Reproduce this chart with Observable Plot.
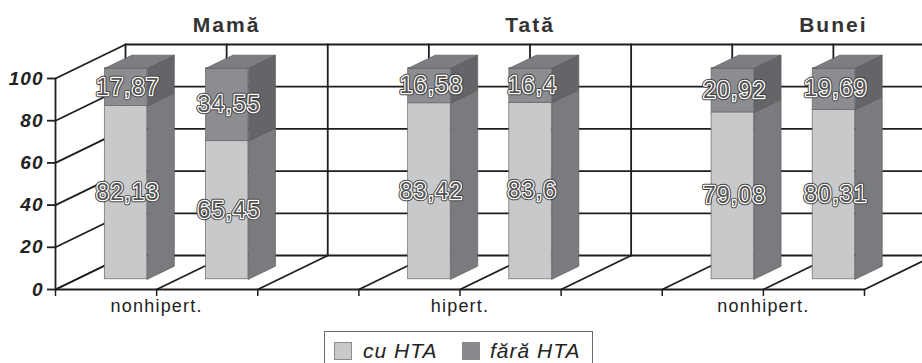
<!DOCTYPE html>
<html><head><meta charset="utf-8">
<script src="https://cdn.jsdelivr.net/npm/d3@7"></script>
<script src="https://cdn.jsdelivr.net/npm/@observablehq/plot@0.6"></script>
<style>
html,body{margin:0;padding:0;background:#fff;overflow:hidden;width:922px;height:363px;}
#chart{position:relative;width:922px;height:363px;overflow:hidden;}
#chart svg{overflow:hidden;}
.c [aria-label="y-axis tick label"] text{font-family:"Liberation Sans",Arial,sans-serif;font-size:19px;font-weight:bold;font-style:italic;letter-spacing:1px;fill:#222;}
.c [aria-label="x-axis tick label"] text{font-family:"Liberation Sans",Arial,sans-serif;font-size:18px;letter-spacing:1.2px;fill:#222;}
.lg{position:absolute;font-family:"Liberation Sans",Arial,sans-serif;}
.box{left:324px;top:331px;width:269px;height:50px;border:1.5px solid #6b6b6b;box-sizing:border-box;}
.sw{width:18px;height:18px;top:342px;border:1px solid #8c8c8c;box-sizing:border-box;}
.lt{top:340px;font-size:21px;line-height:21px;font-style:italic;letter-spacing:1px;color:#222;white-space:nowrap;}
</style></head><body><div id="chart"></div>
<script>
// ---- data ----
const groups = ["Mamă", "Tată", "Bunei"];
const categories = ["nonhipert.", "hipert.", "nonhipert."];
const series = ["cu HTA", "fără HTA"];
const cuHTA   = [82.13, 65.45, 83.42, 83.6, 79.08, 80.31];
const faraHTA = [17.87, 34.55, 16.58, 16.4, 20.92, 19.69];
const yTicks = [0, 20, 40, 60, 80, 100];
const colors = {front: ["#c8c9cb", "#8c8d90"], side: ["#7a7b7f", "#646568"], top: "#7d7e81", legend2: "#87888b"};

// ---- layout ----
const W = 922, H = 325, mL = 55, mR = 58, mT = 78, mB = 36;
const barsPerGroup = 2;
const nSlots = groups.length * (barsPerGroup + 1) - 1;
const slotPx = (W - mL - mR) / nSlots;
const unitPx = (H - mT - mB) / 100;
const DXS = 70 / slotPx;   // depth offset in x units
const DYV = 34 / unitPx;   // depth offset in y units
const A = 0.28, B = 0.70, D0 = 0.30, D1 = 0.686;
const P = (s, v, d) => ({x: s + d * DXS, y: v + d * DYV});
const poly = (id, pts) => [...pts, pts[0]].map(p => ({id, ...p}));
const fmt = v => String(v).replace(".", ",");

const bars = [];
groups.forEach((g, gi) => {
  for (let i = 0; i < barsPerGroup; i++) {
    const k = gi * barsPerGroup + i;
    bars.push({slot: gi * (barsPerGroup + 1) + i, vals: [cuHTA[k], faraHTA[k]]});
  }
});

const segs = [];
bars.forEach((b, bi) => {
  let v0 = 0;
  b.vals.forEach((v, si) => { segs.push({bi, si, s: b.slot, v0, v1: v0 + v, v}); v0 += v; });
});

const sidePolys = [[], []], frontRects = [[], []], topPolys = [];
segs.forEach((g, j) => {
  sidePolys[g.si].push(...poly("s" + j, [P(g.s + B, g.v0, D0), P(g.s + B, g.v0, D1), P(g.s + B, g.v1, D1), P(g.s + B, g.v1, D0)]));
  frontRects[g.si].push({x1: g.s + A + D0 * DXS, x2: g.s + B + D0 * DXS, y1: g.v0 + D0 * DYV, y2: g.v1 + D0 * DYV});
  if (g.si === 1) topPolys.push(...poly("t" + j, [P(g.s + A, g.v1, D0), P(g.s + B, g.v1, D0), P(g.s + B, g.v1, D1), P(g.s + A, g.v1, D1)]));
});
const labels = segs.map(g => ({x: g.s + (A + B) / 2 + D0 * DXS, y: (g.v0 + g.v1) / 2 + D0 * DYV, t: fmt(g.v)}));

const grid = [];
let gid = 0;
const seg = (p, q) => { grid.push({id: gid, ...p}, {id: gid, ...q}); gid++; };
yTicks.forEach(t => { seg(P(0, t, 1), P(nSlots, t, 1)); seg(P(0, t, 0), P(0, t, 1)); });
d3.range(nSlots + 1).forEach(s => { seg(P(s, 0, 1), P(s, 100, 1)); seg(P(s, 0, 0), P(s, 0, 1)); });
seg(P(0, 0, 0), P(nSlots, 0, 0));
seg(P(0, 0, 0), P(0, 100, 0));

const catAt = s => {
  const gi = (s - 1) / (barsPerGroup + 1);
  return Number.isInteger(gi) && gi >= 0 && gi < categories.length ? categories[gi] : "";
};

const lineColor = "#1e1e1e";
const plot = Plot.plot({
  width: W, height: H, marginLeft: mL, marginRight: mR, marginTop: mT, marginBottom: mB,
  className: "c",
  style: {background: "#fff", color: lineColor, fontFamily: "Liberation Sans, Arial, sans-serif"},
  x: {domain: [0, nSlots]},
  y: {domain: [0, 100]},
  marks: [
    Plot.line(grid, {x: "x", y: "y", z: "id", stroke: lineColor, strokeWidth: 1.8}),
    Plot.axisY(yTicks, {tickSize: 8, tickPadding: 4, stroke: lineColor, strokeWidth: 1.8}),
    Plot.axisX(d3.range(nSlots + 1), {tickSize: 7, tickPadding: 3, tickFormat: catAt, stroke: lineColor, strokeWidth: 1.5}),
    ...[0, 1].map(si => Plot.line(sidePolys[si], {x: "x", y: "y", z: "id", fill: colors.side[si], stroke: "#5a5a5a", strokeWidth: 0.7})),
    ...[0, 1].map(si => Plot.rect(frontRects[si], {x1: "x1", x2: "x2", y1: "y1", y2: "y2", fill: colors.front[si], stroke: "#666", strokeWidth: 0.7})),
    Plot.line(topPolys, {x: "x", y: "y", z: "id", fill: colors.top, stroke: "#5a5a5a", strokeWidth: 0.7}),
    Plot.text(labels, {x: "x", y: "y", text: "t", dx: 2, fontSize: 23, fill: "#3a3a3a", stroke: "#3a3a3a", strokeWidth: 4.5, className: "vl"}),
    Plot.text(labels, {x: "x", y: "y", text: "t", dx: 2, fontSize: 23, fill: "#555", stroke: "white", strokeWidth: 2.6, paintOrder: "stroke", className: "vl"}),
    Plot.text(groups, {x: (d, i) => i * (barsPerGroup + 1) + 1 + DXS, y: 100 + DYV, dy: -19, text: d => d, fontSize: 21, fontWeight: "bold", fill: "#333", className: "gt"})
  ]
});
const chart = document.getElementById("chart");
chart.appendChild(plot);
const st = document.createElement("style");
st.textContent = `.vl text{letter-spacing:1.2px;} .gt text{letter-spacing:2px;}`;
document.head.appendChild(st);
chart.insertAdjacentHTML("beforeend", `
<div class="lg box"></div>
<div class="lg sw" style="left:334px;background:${colors.front[0]}"></div>
<div class="lg lt" style="left:363px">${series[0]}</div>
<div class="lg sw" style="left:462px;background:${colors.legend2}"></div>
<div class="lg lt" style="left:490px">${series[1]}</div>`);
</script>
</body></html>
